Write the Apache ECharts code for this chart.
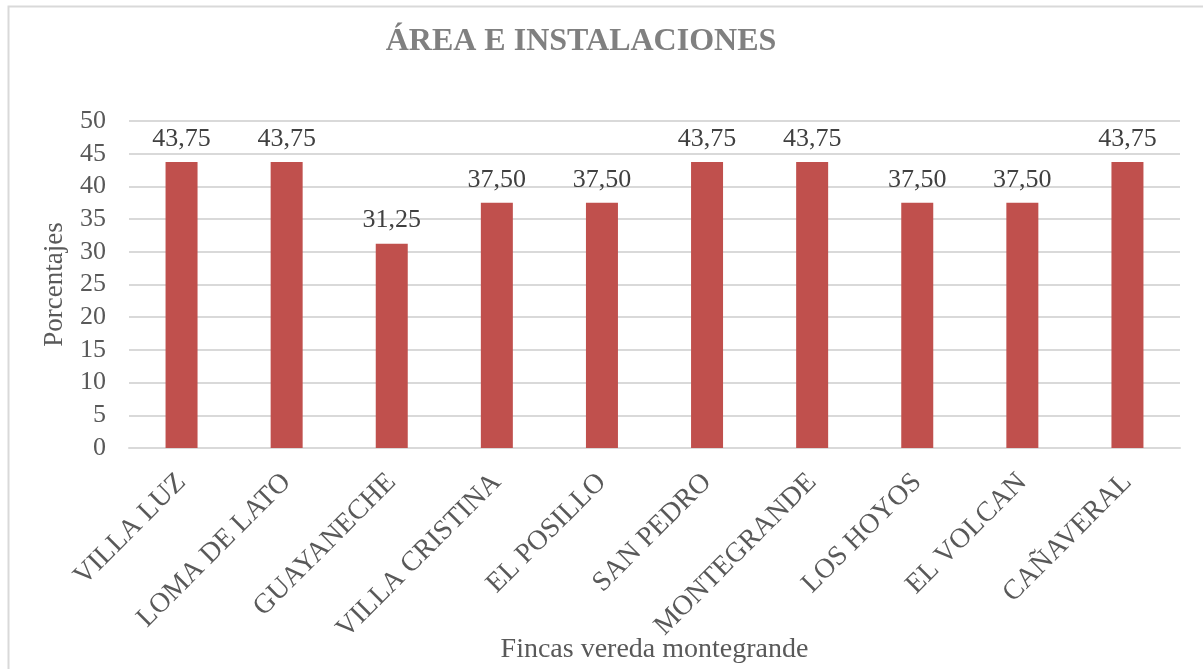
<!DOCTYPE html>
<html><head><meta charset="utf-8">
<script src="https://cdn.jsdelivr.net/npm/echarts@6/dist/echarts.min.js"></script>
<style>html,body{margin:0;padding:0;background:#fff}#c{width:1203px;height:669px}</style>
</head><body><div id="c"></div>
<script>
const categories = ['VILLA LUZ','LOMA DE LATO','GUAYANECHE','VILLA CRISTINA','EL POSILLO','SAN PEDRO','MONTEGRANDE','LOS HOYOS','EL VOLCAN','CAÑAVERAL'];
const values = [43.75,43.75,31.25,37.5,37.5,43.75,43.75,37.5,37.5,43.75];
const titleText = 'ÁREA E INSTALACIONES';
const xName = 'Fincas vereda montegrande';
const yName = 'Porcentajes';
const font = '"Liberation Serif", "Times New Roman", serif';
const chart = echarts.init(document.getElementById('c'));
chart.setOption({
  animation:false,
  graphic:[{type:'rect',shape:{x:8.5,y:6.5,width:1300,height:700},style:{fill:'none',stroke:'#D9D9D9',lineWidth:2}}],
  title:{text:titleText,left:576,textAlign:'center',top:21,textStyle:{fontFamily:font,fontSize:32,fontWeight:'bold',color:'#808080'}},
  grid:{left:129,right:23,top:121,bottom:221,containLabel:false,outerBoundsMode:'none'},
  xAxis:{type:'category',data:categories,name:xName,nameLocation:'middle',nameGap:188,nameMoveOverlap:false,
    nameTextStyle:{fontFamily:font,fontSize:28,color:'#595959'},
    axisLine:{lineStyle:{color:'#D9D9D9',width:2}},axisTick:{show:false},
    axisLabel:{rotate:45,interval:0,margin:30,fontFamily:font,fontSize:28,color:'#595959'}},
  yAxis:{type:'value',min:0,max:50,interval:5,name:yName,nameLocation:'middle',nameGap:61,nameMoveOverlap:false,
    nameTextStyle:{fontFamily:font,fontSize:27,color:'#595959'},
    axisLine:{show:false},axisTick:{show:false},
    axisLabel:{fontFamily:font,fontSize:26,color:'#595959',margin:23},
    splitLine:{lineStyle:{color:'#D9D9D9',width:2}}},
  series:[{type:'bar',data:values,barWidth:32,itemStyle:{color:'#C0504D'},
    label:{show:true,position:'top',distance:10,fontFamily:font,fontSize:26,color:'#404040',
      formatter:p=>p.value.toFixed(2).replace('.',',')}}]
});
</script></body></html>
